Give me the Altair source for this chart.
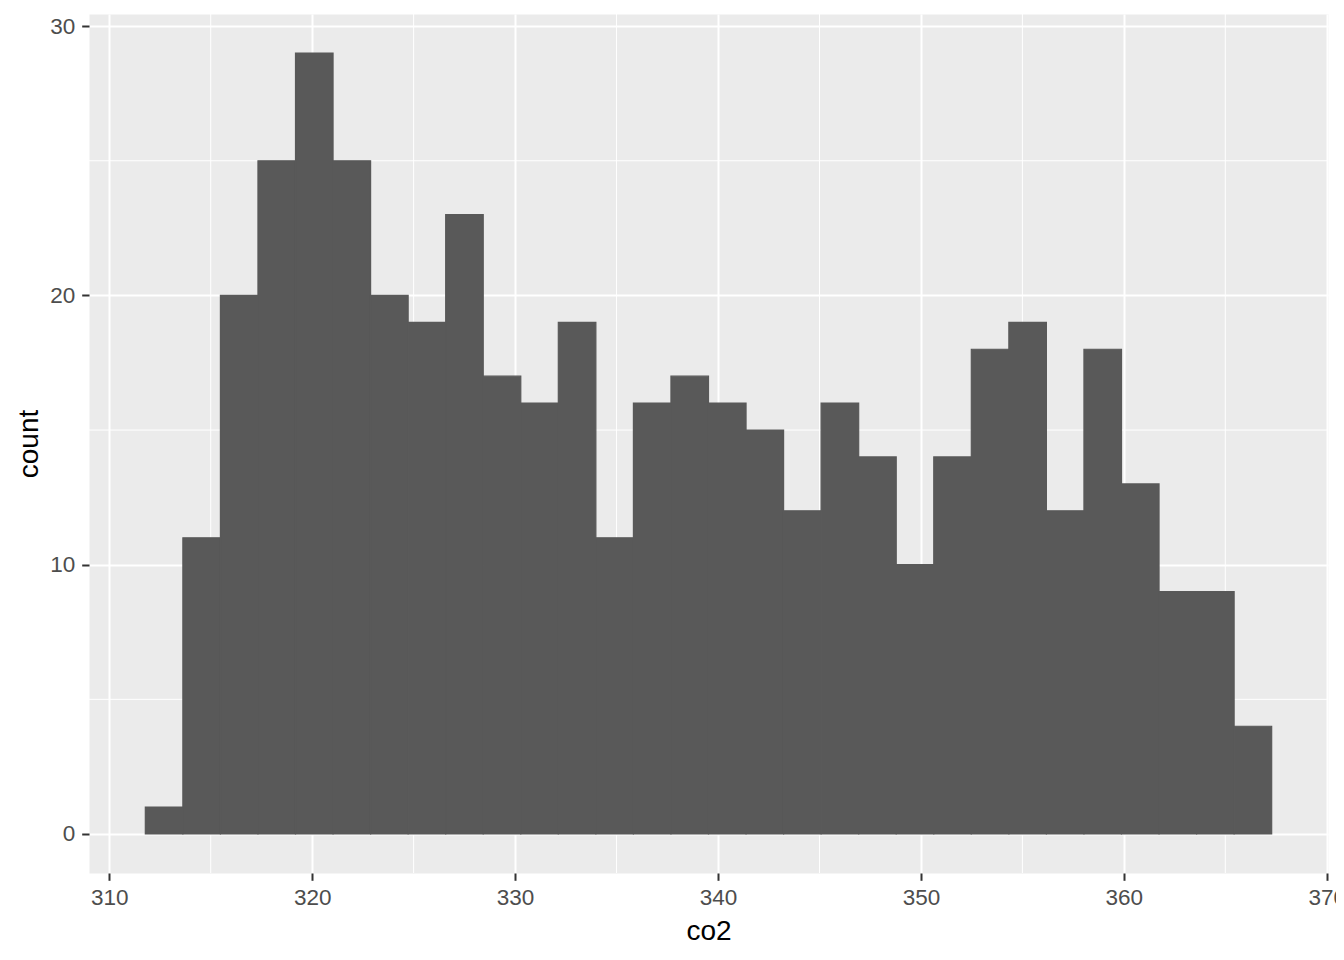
import altair as alt
import pandas as pd

# Histogram of co2 (30 bins), counts
counts = [1, 11, 20, 25, 29, 25, 20, 19, 23, 17, 16, 19, 11, 16, 17,
          16, 15, 12, 16, 14, 10, 14, 18, 19, 12, 18, 13, 9, 9, 4]
bin_origin = 311.777
bin_width = 1.8503

x_ticks = [310, 320, 330, 340, 350, 360, 370]
y_ticks = [0, 10, 20, 30]
x_minor = [315, 325, 335, 345, 355, 365]
y_minor = [5, 15, 25]

x_domain = [309.001, 370.062]
y_domain = [-1.45, 30.45]

bars_df = pd.DataFrame({
    "lo": [bin_origin + i * bin_width for i in range(len(counts))],
    "hi": [bin_origin + (i + 1) * bin_width for i in range(len(counts))],
    "count": counts,
})
minor_x_df = pd.DataFrame({"v": x_minor})
minor_y_df = pd.DataFrame({"v": y_minor})

xs = alt.Scale(domain=x_domain, nice=False, zero=False)
ys = alt.Scale(domain=y_domain, nice=False, zero=False)

bars = alt.Chart(bars_df).mark_rect(
    color="#595959", stroke="#595959", strokeWidth=1.2
).encode(
    x=alt.X("lo:Q", scale=xs, title="co2",
            axis=alt.Axis(values=x_ticks, grid=True, domain=False,
                          labelPadding=6, titlePadding=9)),
    x2="hi:Q",
    y=alt.Y("count:Q", scale=ys, title="count",
            axis=alt.Axis(values=y_ticks, grid=True, domain=False,
                          labelPadding=7, titlePadding=6)),
    y2=alt.datum(0),
)

minor_v = alt.Chart(minor_x_df).mark_rule(color="white", strokeWidth=1).encode(
    x=alt.X("v:Q", scale=xs),
)
minor_h = alt.Chart(minor_y_df).mark_rule(color="white", strokeWidth=1).encode(
    y=alt.Y("v:Q", scale=ys),
)

chart = alt.layer(minor_v, minor_h, bars).properties(
    width=1239,
    height=859,
    padding={"left": 81, "top": 6, "right": 8, "bottom": 78},
    autosize=alt.AutoSizeParams(type="none"),
).configure_view(
    fill="#EBEBEB", stroke="transparent"
).configure_axis(
    labelFont="Liberation Sans",
    labelFontSize=22.5,
    labelColor="#4D4D4D",
    tickColor="#333333",
    tickSize=7.3,
    tickWidth=2,
    gridColor="#FFFFFF",
    gridWidth=2,
    titleFont="Liberation Sans",
    titleFontSize=28,
    titleFontWeight="normal",
    titleColor="#000000",
)

chart.save("out.html", embed_options={"renderer": "svg", "actions": False})
